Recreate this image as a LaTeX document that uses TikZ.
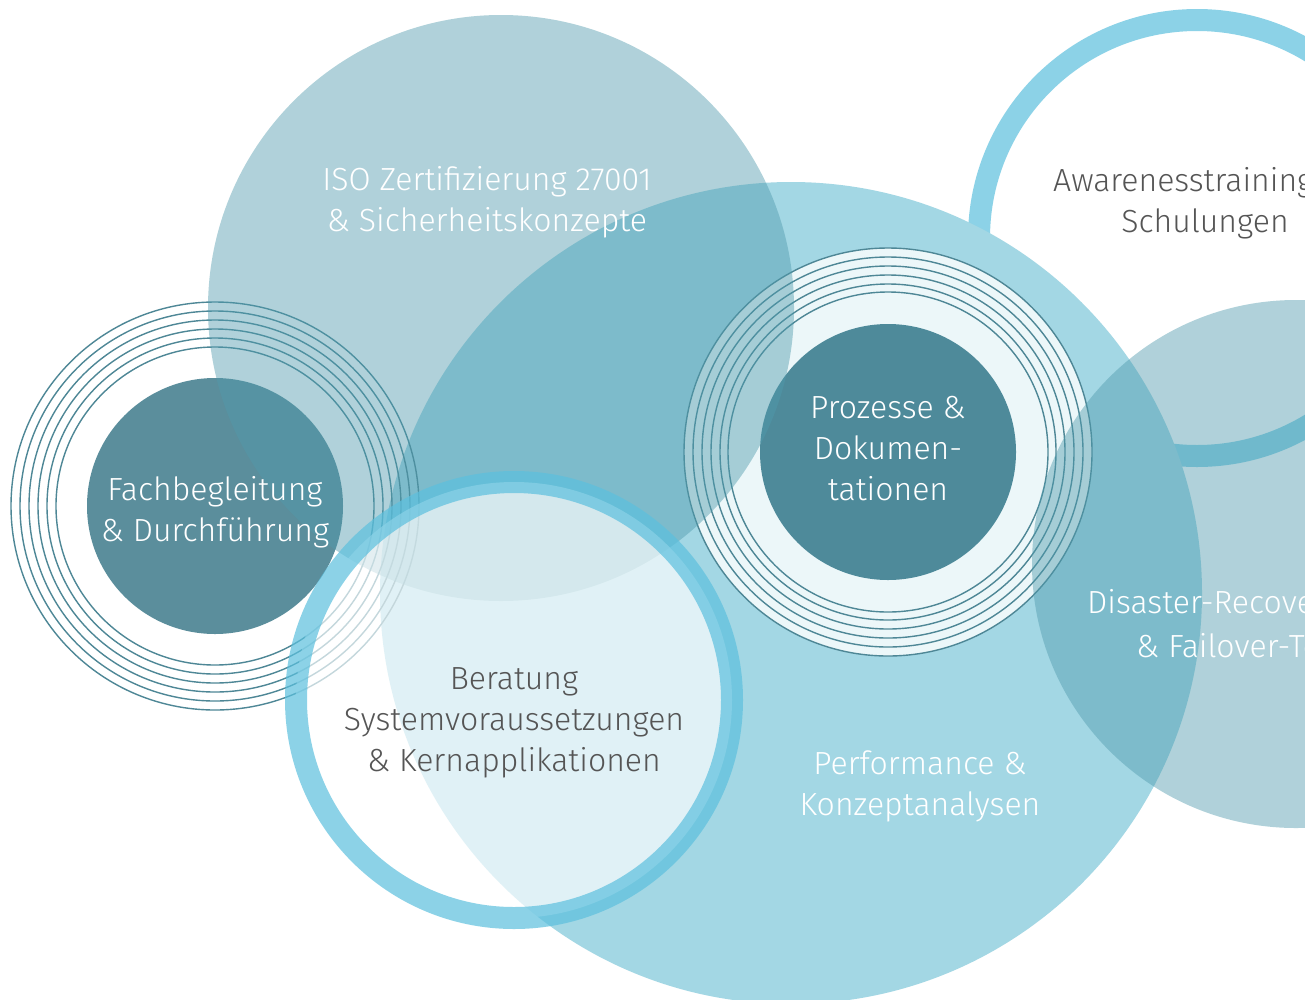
\documentclass[tikz,border=0pt]{standalone}
\usepackage{fontspec}
\setmainfont{Fira Sans}[UprightFont={* Light}]
\definecolor{bigblue}{HTML}{A3D7E4}
\definecolor{isoteal}{HTML}{509BAD}
\definecolor{ringblue}{HTML}{5CC0DE}
\definecolor{darkfach}{HTML}{5B8E9C}
\definecolor{darkproz}{HTML}{4E8A9A}
\definecolor{lineteal}{HTML}{4E8796}
\definecolor{txtgray}{HTML}{555555}
\tikzset{
  lbl/.style={align=center, inner sep=0pt, font=\fontsize{32}{41}\selectfont},
  whitelbl/.style={lbl, text=white},
  graylbl/.style={lbl, text=txtgray},
  thinring/.style={draw=lineteal, line width=1.4pt},
  softdisc/.style={fill=isoteal, fill opacity=0.45},
  thickring/.style={draw=ringblue, draw opacity=0.7, line width=22pt}
}
\begin{document}
\begin{tikzpicture}[x=1pt,y=-1pt]
\useasboundingbox (0,0) rectangle (1305,999);
\clip (0,0) rectangle (1305,999);
\fill[white] (0,0) rectangle (1305,999);
% coordinates of centres
\coordinate (cAware) at (1197,238);
\coordinate (cBig) at (791,593);
\coordinate (cFach) at (215,506);
\coordinate (cProz) at (888,452);
\coordinate (cIso) at (501,308);
\coordinate (cDis) at (1296,564);
\coordinate (cBer) at (514,700);
% awareness ring
\draw[thickring] (cAware) circle[radius=218pt];
% big performance circle
\fill[bigblue] (cBig) circle[radius=411pt];
% Fach rings and disc
\foreach \r in {204,195,186,177,168,159}{\draw[thinring] (cFach) circle[radius=\r pt];}
\fill[darkfach] (cFach) circle[radius=128pt];
% Prozesse
\fill[white, fill opacity=0.8] (cProz) circle[radius=204pt];
\foreach \r in {204,195,186,177,168,160}{\draw[thinring] (cProz) circle[radius=\r pt];}
\fill[darkproz] (cProz) circle[radius=128pt];
% ISO and Disaster discs
\fill[softdisc] (cIso) circle[radius=293pt];
\fill[softdisc] (cDis) circle[radius=264pt];
% Beratung
\fill[white, fill opacity=0.67] (cBer) circle[radius=218pt];
\draw[thickring] (cBer) circle[radius=218pt];
% labels
\node[whitelbl] (iso) at (487,202) {ISO Zertifizierung 27001\\\& Sicherheitskonzepte};
\node[whitelbl] (fach) at (215,512) {Fachbegleitung\\\& Durchführung};
\node[whitelbl] (proz) at (888,449) {Prozesse \&\\Dokumen-\\tationen};
\node[graylbl, anchor=west] (aware1) at (1053,183) {Awarenesstraining};
\node[graylbl] (aware2) at (1205,224) {Schulungen};
\node[whitelbl, anchor=west] (dis1) at (1087,605) {Disaster-Recovery};
\node[whitelbl, anchor=west] (dis2) at (1136,646) {\& Failover-Tests};
\node[graylbl] (ber) at (514,723) {Beratung\\Systemvoraussetzungen\\\& Kernapplikationen};
\node[whitelbl] (perf) at (920,786) {Performance \&\\Konzeptanalysen};
\end{tikzpicture}
\end{document}
